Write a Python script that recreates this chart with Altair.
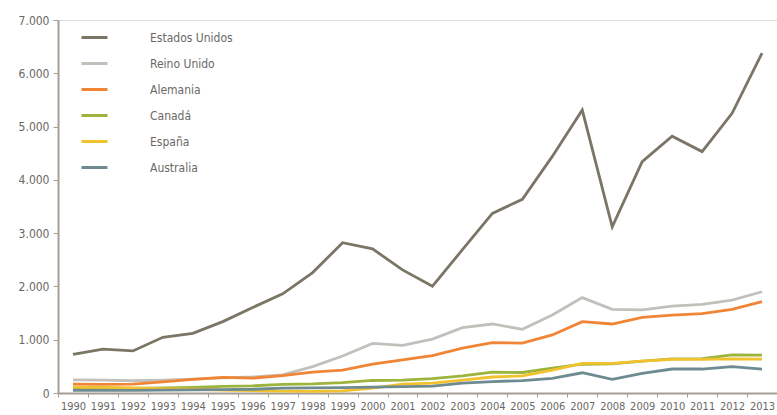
import altair as alt
import pandas as pd

years = list(range(1990, 2014))
series = ["Estados Unidos", "Reino Unido", "Alemania", "Canadá", "España", "Australia"]
colors = ["#7b7566", "#c3c0bb", "#ef8535", "#9cb43c", "#f2c12e", "#6e8b91"]

estados_unidos = [725, 825, 790, 1045, 1120, 1340, 1605, 1860, 2260, 2820, 2705, 2310, 2005,
                  2690, 3370, 3635, 4440, 5310, 3120, 4340, 4820, 4530, 5250, 6380]
reino_unido = [245, 240, 230, 240, 260, 285, 300, 340, 495, 695, 930, 895, 1010,
               1225, 1295, 1195, 1465, 1790, 1570, 1560, 1630, 1665, 1745, 1900]
alemania = [165, 160, 165, 210, 255, 295, 280, 325, 390, 430, 540, 620, 700,
            840, 945, 935, 1090, 1340, 1295, 1420, 1460, 1490, 1570, 1715]
canada = [88, 90, 85, 95, 105, 125, 135, 160, 170, 195, 235, 240, 270,
          320, 390, 385, 465, 540, 545, 600, 640, 645, 715, 710]
espana = [110, 105, 95, 80, 70, 55, 45, 35, 30, 40, 90, 165, 185,
          240, 300, 320, 430, 555, 555, 600, 632, 632, 642, 636]
australia = [50, 50, 50, 55, 60, 65, 70, 90, 95, 100, 110, 120, 130,
             185, 215, 232, 276, 380, 257, 370, 450, 450, 494, 450]

values = [estados_unidos, reino_unido, alemania, canada, espana, australia]
rows = []
for name, vals in zip(series, values):
    for y, v in zip(years, vals):
        rows.append({"year": str(y), "pais": name, "valor": v, "orden": series.index(name)})
df = pd.DataFrame(rows)

text_color = "#6b6864"
axis_color = "#a59d92"
font = "DejaVu Sans Condensed"

chart = alt.Chart(df).mark_line(strokeWidth=2.8).encode(
    x=alt.X(
        "year:O",
        bandPosition=0.5,
        scale=alt.Scale(type="band", paddingInner=0, paddingOuter=0),
        axis=alt.Axis(
            title=None, tickBand="extent", labelAngle=0, labelOverlap=False,
            tickSize=4, labelPadding=3, domainColor=axis_color, domainWidth=2,
            tickColor=axis_color, labelColor=text_color, labelFontSize=11,
            labelFont=font,
        ),
    ),
    y=alt.Y(
        "valor:Q",
        scale=alt.Scale(domain=[0, 7000], nice=False),
        axis=alt.Axis(
            title=None, values=[0, 1000, 2000, 3000, 4000, 5000, 6000, 7000],
            labelExpr="replace(format(datum.value, ','), ',', '.')",
            grid=False, tickSize=5, labelPadding=4, domainColor=axis_color,
            domainWidth=2, tickColor=axis_color, labelColor=text_color,
            labelFontSize=12, labelFont=font,
        ),
    ),
    color=alt.Color(
        "pais:N",
        scale=alt.Scale(domain=series, range=colors),
        legend=alt.Legend(
            title=None, orient="none", legendX=22, legendY=3, padding=0,
            symbolType="stroke", symbolSize=676, symbolStrokeWidth=3,
            rowPadding=5, labelOffset=41, labelFontSize=12, labelColor=text_color,
            labelFont=font,
        ),
    ),
    order=alt.Order("orden:Q", sort="descending"),
    detail="pais:N",
).properties(
    width=719, height=373,
    autosize=alt.AutoSizeParams(type="none"),
    padding={"left": 58, "top": 20, "right": 0, "bottom": 22},
).configure_view(stroke=None).configure(background="white")

chart.save("out.html", embed_options={"renderer": "svg", "actions": False})
